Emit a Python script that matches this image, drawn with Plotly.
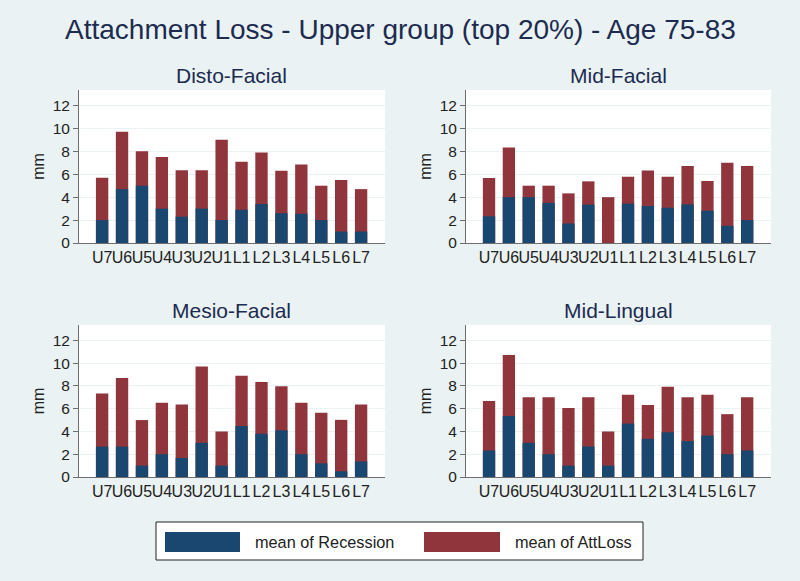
import plotly.graph_objects as go

teeth = ["U7", "U6", "U5", "U4", "U3", "U2", "U1", "L1", "L2", "L3", "L4", "L5", "L6", "L7"]

panel_titles = ["Disto-Facial", "Mid-Facial", "Mesio-Facial", "Mid-Lingual"]

disto_rec = [2.0, 4.7, 5.0, 3.0, 2.3, 3.0, 2.0, 2.9, 3.4, 2.6, 2.55, 2.0, 1.0, 1.0]
disto_att = [5.7, 9.7, 8.0, 7.5, 6.35, 6.35, 9.0, 7.1, 7.9, 6.3, 6.85, 5.0, 5.5, 4.7]

midf_rec = [2.33, 4.0, 4.0, 3.5, 1.7, 3.35, 0.0, 3.43, 3.23, 3.08, 3.37, 2.82, 1.5, 2.0]
midf_att = [5.67, 8.33, 5.0, 5.0, 4.33, 5.38, 4.0, 5.78, 6.33, 5.78, 6.72, 5.41, 7.0, 6.72]

mesio_rec = [2.67, 2.67, 1.0, 2.0, 1.67, 3.0, 1.0, 4.48, 3.8, 4.1, 2.0, 1.2, 0.5, 1.37]
mesio_att = [7.33, 8.7, 5.0, 6.52, 6.37, 9.7, 4.0, 8.9, 8.35, 7.97, 6.52, 5.65, 5.02, 6.37]

midl_rec = [2.33, 5.36, 3.0, 2.0, 1.0, 2.68, 1.0, 4.69, 3.35, 3.93, 3.15, 3.64, 2.0, 2.33]
midl_att = [6.67, 10.72, 7.0, 7.0, 6.05, 7.0, 4.0, 7.22, 6.33, 7.92, 7.0, 7.22, 5.52, 7.0]

recession = [disto_rec, midf_rec, mesio_rec, midl_rec]
attloss = [disto_att, midf_att, mesio_att, midl_att]

series_names = ["mean of Recession", "mean of AttLoss"]
BLUE = "#1a476f"
RED = "#90353b"
BG = "#eaf2f3"
NAVY = "#1c2b50"
FONT = "Liberation Sans, Arial, sans-serif"

W, H = 800, 581
# pixel layout of the four plot areas (left, right, top, bottom)
boxes = [(79, 385, 90, 243), (466, 771, 90, 243), (79, 385, 325, 477), (466, 771, 325, 477)]

fig = go.Figure()
for i in range(4):
    ax = "" if i == 0 else str(i + 1)
    fig.add_trace(go.Bar(x=teeth, y=attloss[i], name=series_names[1], marker_color=RED,
                         marker_line_width=0, width=0.62, xaxis="x" + ax, yaxis="y" + ax,
                         showlegend=False))
    fig.add_trace(go.Bar(x=teeth, y=recession[i], name=series_names[0], marker_color=BLUE,
                         marker_line_width=0, width=0.62, xaxis="x" + ax, yaxis="y" + ax,
                         showlegend=False))
    l, r, t, b = boxes[i]
    xd = [l / W, r / W]
    yd = [1 - b / H, 1 - t / H]
    fig.layout["xaxis" + ax] = dict(domain=xd, anchor="y" + ax, type="category",
                                    range=[-1.16, 14.2], showgrid=False, showline=True,
                                    linecolor="#6e6e6e", linewidth=1, ticks="",
                                    tickangle=0,
                                    tickfont=dict(size=16, color="#222222", family=FONT),
                                    fixedrange=True)
    fig.layout["yaxis" + ax] = dict(domain=yd, anchor="x" + ax, range=[0, 13.35],
                                    tickvals=[0, 2, 4, 6, 8, 10, 12], showgrid=True,
                                    gridcolor=BG, gridwidth=1, showline=True,
                                    linecolor="#6e6e6e", linewidth=1, ticks="outside",
                                    ticklen=5, tickcolor="#6e6e6e",
                                    tickfont=dict(size=15.5, color="#222222", family=FONT),
                                    title=dict(text="mm", font=dict(size=16, color="#222222", family=FONT),
                                               standoff=4),
                                    zeroline=False, fixedrange=True)
    fig.add_annotation(x=(l + r) / 2 / W, y=1 - (t - 15) / H, xref="paper", yref="paper",
                       xanchor="center", yanchor="middle",
                       text=panel_titles[i], showarrow=False,
                       font=dict(size=21, color=NAVY, family=FONT))

# title
fig.add_annotation(x=0.5, y=1 - 30 / H, xref="paper", yref="paper",
                   xanchor="center", yanchor="middle",
                   text="Attachment Loss - Upper group (top 20%) - Age 75-83", showarrow=False,
                   font=dict(size=28, color=NAVY, family=FONT))

# legend box
shapes = [dict(type="rect", xref="paper", yref="paper", x0=156 / W, x1=643 / W,
               y0=1 - 560 / H, y1=1 - 522 / H, fillcolor="white",
               line=dict(color="#222222", width=1)),
          dict(type="rect", xref="paper", yref="paper", x0=165 / W, x1=240 / W,
               y0=1 - 552 / H, y1=1 - 532 / H, fillcolor=BLUE, line=dict(width=0)),
          dict(type="rect", xref="paper", yref="paper", x0=424 / W, x1=500 / W,
               y0=1 - 552 / H, y1=1 - 532 / H, fillcolor=RED, line=dict(width=0))]
for s in shapes:
    fig.add_shape(**s)
fig.add_annotation(x=253 / W, y=1 - 542 / H, xref="paper", yref="paper", xanchor="left",
                   yanchor="middle", text=series_names[0], showarrow=False,
                   font=dict(size=16.3, color="#222222", family=FONT))
fig.add_annotation(x=513 / W, y=1 - 542 / H, xref="paper", yref="paper", xanchor="left",
                   yanchor="middle", text=series_names[1], showarrow=False,
                   font=dict(size=16.3, color="#222222", family=FONT))

fig.update_layout(width=W, height=H, margin=dict(l=0, r=0, t=0, b=0, autoexpand=False),
                  paper_bgcolor=BG, plot_bgcolor="white", barmode="overlay",
                  showlegend=False, font=dict(family=FONT))

fig.write_html("out.html", config={"displayModeBar": False, "staticPlot": True},
               post_script="document.body.style.margin='0';document.body.style.padding='0';"
                           "document.body.style.overflow='hidden';"
                           "document.documentElement.style.background='%s';" % BG)
